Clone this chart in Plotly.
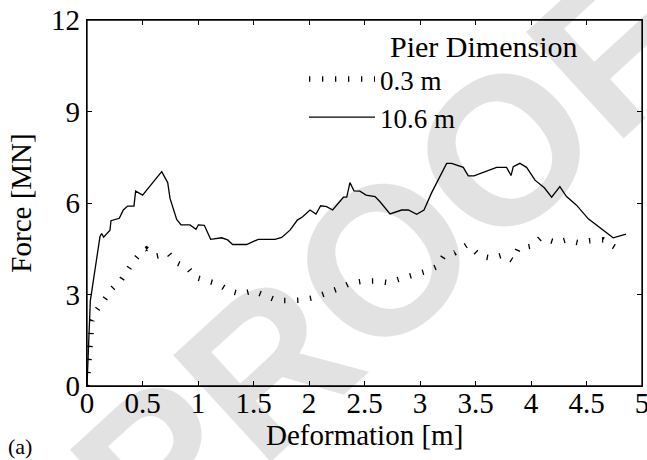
import plotly.graph_objects as go

# ---- data ----
deform_10_6 = [0.0, 0.01, 0.03, 0.04, 0.087, 0.117, 0.132, 0.15, 0.207, 0.216, 0.291, 0.327, 0.366,
               0.423, 0.438, 0.501, 0.673, 0.727, 0.748, 0.808, 0.847, 0.928, 0.982, 1.003, 1.057,
               1.114, 1.213, 1.267, 1.312, 1.438, 1.543, 1.694, 1.754, 1.829, 1.895, 1.943, 2.009,
               2.063, 2.105, 2.159, 2.213, 2.31, 2.34, 2.369, 2.405, 2.459, 2.514, 2.595, 2.64,
               2.73, 2.835, 2.895, 2.97, 3.036, 3.105, 3.24, 3.285, 3.39, 3.435, 3.486, 3.69,
               3.78, 3.82, 3.84, 3.9, 3.96, 4.036, 4.12, 4.186, 4.26, 4.32, 4.41, 4.516, 4.74, 4.856]
force_10_6 = [0.0, 1.2, 2.8, 3.04, 4.13, 4.9, 5.0, 4.88, 5.11, 5.42, 5.5, 5.77, 5.9,
              5.9, 6.39, 6.26, 7.03, 6.67, 6.15, 5.46, 5.28, 5.28, 5.14, 5.28, 5.27,
              4.81, 4.86, 4.79, 4.64, 4.64, 4.81, 4.81, 4.87, 5.11, 5.44, 5.55, 5.77,
              5.64, 5.91, 5.88, 5.77, 6.19, 6.19, 6.67, 6.4, 6.39, 6.26, 6.21, 6.04,
              5.64, 5.77, 5.77, 5.63, 5.77, 6.34, 7.3, 7.3, 7.17, 6.89, 6.89, 7.17,
              7.17, 6.9, 7.19, 7.3, 7.17, 6.75, 6.5, 6.19, 6.54, 6.21, 5.93, 5.48, 4.86, 4.98]

deform_0_3 = [0.0, 0.01, 0.015, 0.02, 0.03, 0.045, 0.09, 0.162, 0.228, 0.312, 0.366, 0.417, 0.471,
              0.537, 0.627, 0.733, 0.808, 0.904, 0.979, 1.078, 1.183, 1.282, 1.384, 1.498,
              1.604, 1.715, 1.829, 1.943, 2.054, 2.165, 2.273, 2.375, 2.49, 2.6, 2.715,
              2.835, 2.94, 3.045, 3.15, 3.21, 3.315, 3.42, 3.45, 3.54, 3.646, 3.75, 3.835,
              3.886, 4.006, 4.081, 4.14, 4.23, 4.32, 4.426, 4.53, 4.65, 4.757, 4.838]
force_0_3 = [0.0, 0.45, 0.85, 1.3, 1.75, 2.15, 2.5, 2.87, 3.2, 3.5, 3.83, 4.08, 4.32,
             4.49, 4.26, 4.35, 4.04, 3.89, 3.56, 3.45, 3.34, 3.12, 3.02, 3.12,
             2.95, 2.8, 2.8, 2.82, 2.91, 3.04, 3.2, 3.37, 3.44, 3.44, 3.39,
             3.53, 3.64, 3.75, 3.91, 4.24, 4.37, 4.62, 4.57, 4.26, 4.19, 4.3, 4.11,
             4.51, 4.59, 4.84, 4.81, 4.7, 4.79, 4.7, 4.76, 4.79, 4.55, 4.51]

x_ticks = [0, 0.5, 1, 1.5, 2, 2.5, 3, 3.5, 4, 4.5, 5]
x_tick_labels = ["0", "0.5", "1", "1.5", "2", "2.5", "3", "3.5", "4", "4.5", "5"]
y_ticks = [0, 3, 6, 9, 12]
y_tick_labels = ["0", "3", "6", "9", "12"]

FONT = "Liberation Serif, DejaVu Serif, serif"

PL, PR, PT, PB = 87, 642, 20, 386
W, H = 647, 460
PW, PH = PR - PL, PB - PT


def px(xw):
    return (xw - PL) / PW


def py(yw):
    return (PB - yw) / PH


fig = go.Figure()
fig.add_trace(go.Scatter(
    x=deform_0_3, y=force_0_3, mode="lines", name="0.3 m",
    line=dict(color="black", width=5.5, dash="1.3px,11.7px"),
))
fig.add_trace(go.Scatter(
    x=deform_10_6, y=force_10_6, mode="lines", name="10.6 m",
    line=dict(color="black", width=1.3),
))

axis_common = dict(
    showgrid=False, zeroline=False, showline=True, linecolor="black", linewidth=1.3,
    mirror="ticks", ticks="inside", ticklen=5, tickwidth=1, tickcolor="black",
    tickfont=dict(family=FONT, size=29, color="black"), automargin=False,
    ticklabeloverflow="allow",
)

fig.update_xaxes(range=[0, 5], tickvals=x_ticks, ticktext=x_tick_labels,
                 ticklabelstandoff=-9,
                 **axis_common)
fig.update_yaxes(range=[0, 12], tickvals=y_ticks, ticktext=y_tick_labels,
                 title=dict(text="Force [MN]", font=dict(family=FONT, size=29, color="black"),
                            standoff=10),
                 **axis_common)

fig.update_layout(
    width=W, height=H,
    margin=dict(l=PL, r=W - PR, t=PT, b=H - PB, autoexpand=False),
    paper_bgcolor="white", plot_bgcolor="white",
    showlegend=True,
    legend=dict(x=px(304), y=py(55), xanchor="left", yanchor="top",
                bgcolor="rgba(0,0,0,0)", itemwidth=66,
                font=dict(family=FONT, size=27, color="black")),
    shapes=[
        # axes box frame (top and right edges as in the reference)
        dict(type="rect", xref="paper", yref="paper", x0=0, x1=1, y0=0, y1=1,
             line=dict(color="black", width=1.3), fillcolor="rgba(0,0,0,0)", layer="above"),
    ],
    annotations=[
        dict(text="Deformation [m]", x=0.5, y=py(435), xref="paper", yref="paper",
             xanchor="center", yanchor="middle", showarrow=False,
             font=dict(family=FONT, size=29, color="black")),
        dict(text="Pier Dimension", x=px(388), y=py(47), xref="paper", yref="paper",
             xanchor="left", yanchor="middle", showarrow=False,
             font=dict(family=FONT, size=30, color="black")),
        dict(text="(a)", x=px(20), y=py(446), xref="paper", yref="paper",
             xanchor="center", yanchor="middle", showarrow=False,
             font=dict(family=FONT, size=22, color="black")),
        dict(text="<b>PROOF</b>", x=px(383), y=py(260), xref="paper", yref="paper",
             xanchor="center", yanchor="middle", showarrow=False, textangle=-42.5,
             font=dict(family="Liberation Sans", size=210, color="rgba(0,0,0,0.115)")),
    ],
)

fig.write_html("out.html",
               config={"displayModeBar": False},
               post_script="document.body.style.margin='0';"
                           "document.body.style.overflow='hidden';"
                           "document.documentElement.style.overflow='hidden';")
